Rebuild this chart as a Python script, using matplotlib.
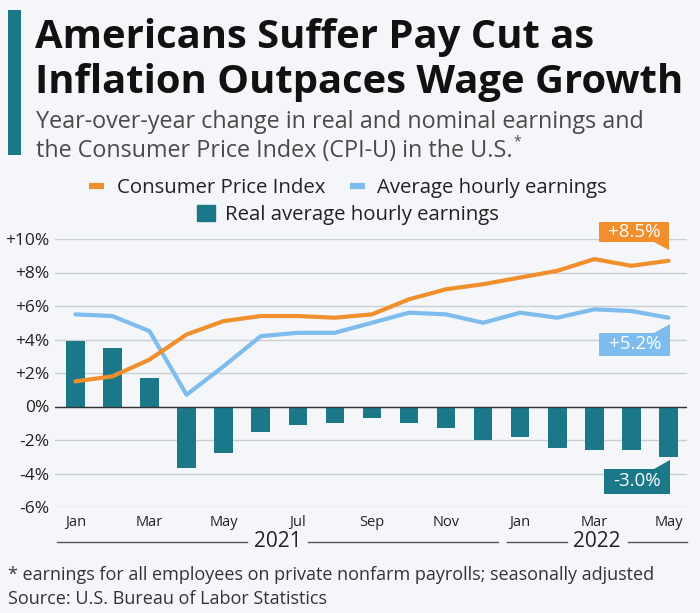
import matplotlib
matplotlib.use('Agg')
import matplotlib.pyplot as plt
from matplotlib.lines import Line2D
from matplotlib.patches import Patch, Rectangle, Polygon
from matplotlib.transforms import IdentityTransform

plt.rcParams['font.family'] = ['Open Sans', 'DejaVu Sans']

# data (year-over-year change, %)
months = ['Jan', 'Feb', 'Mar', 'Apr', 'May', 'Jun', 'Jul', 'Aug', 'Sep', 'Oct', 'Nov', 'Dec',
          'Jan', 'Feb', 'Mar', 'Apr', 'May']
years = ['2021'] * 12 + ['2022'] * 5
cpi = [1.5, 1.8, 2.8, 4.3, 5.1, 5.4, 5.4, 5.3, 5.5, 6.4, 7.0, 7.3, 7.7, 8.1, 8.8, 8.4, 8.7]
ahe = [5.5, 5.4, 4.5, 0.7, 2.4, 4.2, 4.4, 4.4, 5.0, 5.6, 5.5, 5.0, 5.6, 5.3, 5.8, 5.7, 5.3]
real = [3.9, 3.5, 1.7, -3.7, -2.8, -1.5, -1.1, -1.0, -0.7, -1.0, -1.3, -2.0, -1.8, -2.5, -2.6, -2.6, -3.0]
end_labels = ['+8.5%', '+5.2%', '-3.0%']

BG = '#f4f6f9'
TEAL = '#1b7889'
ORANGE = '#f08f2c'
BLUE = '#7dbcec'

W, H = 700, 613
fig = plt.figure(figsize=(W / 100, H / 100), dpi=100, facecolor=BG)

def fx(px):
    return px / W

def fy(py):
    return 1 - py / H

# header
fig.patches.append(Rectangle((fx(8), fy(155)), fx(13), (155 - 10) / H, transform=fig.transFigure,
                             color=TEAL, lw=0))
fig.text(fx(35), fy(48), 'Americans Suffer Pay Cut as', fontsize=28.8, fontweight='bold', color='#111111')
fig.text(fx(35), fy(93), 'Inflation Outpaces Wage Growth', fontsize=28.8, fontweight='bold', color='#111111')
fig.text(fx(36), fy(128), 'Year-over-year change in real and nominal earnings and', fontsize=16.8, color='#4a4a4a')
sub2 = fig.text(fx(36), fy(157), 'the Consumer Price Index (CPI-U) in the U.S.', fontsize=16.8, color='#4a4a4a')

# chart
ax = fig.add_axes([fx(55), fy(507), fx(687) - fx(55), (507 - 239) / H])
ax.set_facecolor(BG)
x = list(range(len(months)))

ax.bar(x, real, width=0.5, color=TEAL, zorder=2)
ax.plot(x, ahe, color=BLUE, lw=3, zorder=3, solid_capstyle='round')
ax.plot(x, cpi, color=ORANGE, lw=3, zorder=4, solid_capstyle='round')
ax.axhline(0, color='#333333', lw=1, zorder=2.5)

ax.set_xlim(-0.55, 16.5)
ax.set_ylim(-6, 10)
yt = list(range(-6, 11, 2))
ax.set_yticks(yt)
ax.set_yticklabels([('+%d%%' % v) if v > 0 else '%d%%' % v for v in yt], fontsize=12.5, color='#222222')
ax.set_xticks(x[::2])
ax.set_xticklabels(months[::2], fontsize=10.5, color='#222222')
ax.tick_params(length=0, pad=4)
ax.tick_params(axis='x', pad=6)
ax.grid(axis='y', color='#c9ced4', lw=1, zorder=0)
for s in ax.spines.values():
    s.set_visible(False)

# year brackets
for yr, lo, hi in [('2021', -0.5, 11.4), ('2022', 11.65, 16.5)]:
    c = (lo + hi) / 2
    ax.plot([lo, c - 0.82], [-0.13, -0.13], color='#555555', lw=1,
            transform=ax.get_xaxis_transform(), clip_on=False)
    ax.plot([c + 0.82, hi], [-0.13, -0.13], color='#555555', lw=1,
            transform=ax.get_xaxis_transform(), clip_on=False)
    ax.text(c, -0.13, yr, ha='center', va='center', fontsize=15, color='#222222',
            transform=ax.get_xaxis_transform())

# legend
leg1 = fig.legend(handles=[Line2D([], [], color=ORANGE, lw=4.5, solid_capstyle='butt'),
                           Line2D([], [], color=BLUE, lw=4.5, solid_capstyle='butt')],
                  labels=['Consumer Price Index', 'Average hourly earnings'],
                  loc='center', bbox_to_anchor=(fx(348), fy(188)), ncol=2, frameon=False,
                  fontsize=14.7, handlelength=0.75, handletextpad=0.6, columnspacing=1.2,
                  labelcolor='#222222')
leg2 = fig.legend(handles=[Patch(color=TEAL)], labels=['Real average hourly earnings'],
                  loc='center', bbox_to_anchor=(fx(348), fy(215)), frameon=False,
                  fontsize=14.7, handlelength=0.85, handleheight=0.85, handletextpad=0.5,
                  labelcolor='#222222')

# end labels: box offsets in pixels relative to the last point (left, right, top, bottom, tip)
last = len(months) - 1
specs = [
    (cpi[last], ORANGE, end_labels[0], (-69, 1, 39, 19), 'down', 11),
    (ahe[last], BLUE, end_labels[1], (-69, 2, -15, -38), 'up', -6),
    (real[last], TEAL, end_labels[2], (-64, 2, -12, -37), 'up', -3),
]
for val, col, txt, (l, r, t, b), kind, tip in specs:
    px, py = ax.transData.transform((last, val))
    fig.patches.append(Rectangle((px + l, py + b), r - l, t - b, transform=IdentityTransform(),
                                 color=col, lw=0, zorder=5))
    if kind == 'down':
        tri = [(px - 14, py + b), (px + r, py + b), (px + r, py + tip)]
    else:
        tri = [(px - 14, py + t), (px + r, py + t), (px + r, py + tip)]
    fig.patches.append(Polygon(tri, closed=True, transform=IdentityTransform(), color=col, lw=0, zorder=5))
    fig.text((px + (l + r) / 2) / W, (py + (t + b) / 2) / H, txt, ha='center', va='center',
             fontsize=13.5, color='white', zorder=6)

# footer
fig.text(fx(8), fy(580), '* earnings for all employees on private nonfarm payrolls; seasonally adjusted',
         fontsize=13, color='#333333')
fig.text(fx(8), fy(604), 'Source: U.S. Bureau of Labor Statistics', fontsize=13, color='#333333')

# superscript asterisk after subtitle
fig.canvas.draw()
bb = sub2.get_window_extent()
fig.text((bb.x1 + 1) / W, fy(142), '*', fontsize=10, color='#4a4a4a', va='center')

fig.savefig('out.png', dpi=100, facecolor=BG)
